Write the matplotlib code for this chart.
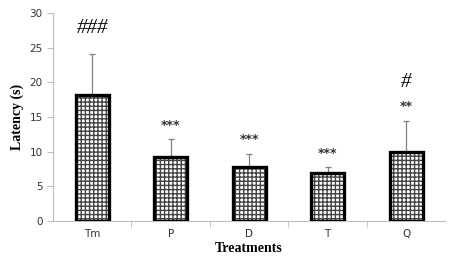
import matplotlib
matplotlib.use("Agg")
import matplotlib.pyplot as plt
import numpy as np

# 数据
treatments = ["Tm", "P", "D", "T", "Q"]
latency = [18.2, 9.2, 7.8, 7.0, 10.0]
sem = [5.9, 2.6, 1.9, 0.8, 4.5]
stars = ["", "***", "***", "***", "**"]
hashes = ["###", "", "", "", "#"]
hash_y = [27.7, 0, 0, 0, 20.0]

fig = plt.figure(figsize=(4.51, 2.61), dpi=100)
ax = fig.add_axes([0.1175, 0.153, 0.87, 0.797])

x = np.arange(len(treatments))
w = 0.42

# 误差线
ax.errorbar(x, latency, yerr=[np.zeros(len(sem)), sem], fmt="none",
            ecolor="#808080", elinewidth=0.9, capsize=2.5, capthick=0.9, zorder=1)

# 格子纹理 + 粗黑边框
ax.bar(x, latency, width=w, color="white", edgecolor="#444444",
       hatch="++++", linewidth=0, zorder=2)
ax.bar(x, latency, width=w, fill=False, edgecolor="black", linewidth=2.4, zorder=3)

for i in range(len(x)):
    top = latency[i] + sem[i]
    if stars[i]:
        ax.text(x[i], top + 2.0, stars[i], ha="center", va="center",
                fontsize=9, fontweight="bold", color="#333333")
    if hashes[i]:
        ax.text(x[i], hash_y[i], hashes[i], ha="center", va="center",
                fontsize=15, family="Liberation Serif", style="italic", color="black")

ax.set_xlim(-0.5, len(x) - 0.5)
ax.set_ylim(0, 30)
ax.set_yticks(range(0, 31, 5))
ax.set_xticks(x)
ax.set_xticklabels(treatments)
ax.set_xticks(np.arange(0.5, len(x) - 0.5, 1), minor=True)

for s in ["top", "right"]:
    ax.spines[s].set_visible(False)
ax.spines["left"].set_color("#bfbfbf")
ax.spines["bottom"].set_color("#bfbfbf")
ax.tick_params(axis="y", colors="#bfbfbf", labelcolor="#333333", labelsize=7.5, length=4)
ax.tick_params(axis="x", which="major", length=0, labelsize=7.5, labelcolor="#333333", pad=6)
ax.tick_params(axis="x", which="minor", length=4, colors="#bfbfbf")

ax.set_ylabel("Latency (s)", family="Liberation Serif", fontweight="bold", fontsize=10)
ax.set_xlabel("Treatments", family="Liberation Serif", fontweight="bold", fontsize=10, labelpad=2)

fig.savefig("out.png", dpi=100)
